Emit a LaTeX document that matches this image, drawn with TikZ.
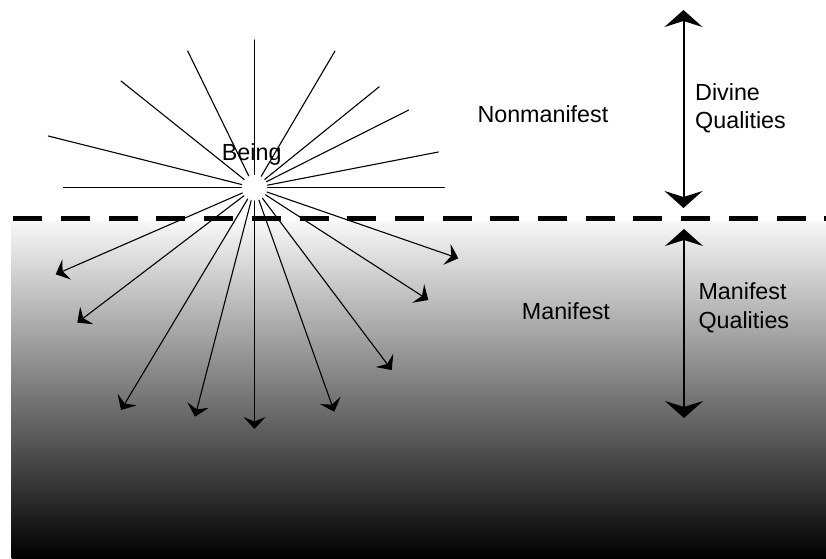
\documentclass[tikz,border=0pt]{standalone}
\usepackage{fontspec}
\setmainfont{Liberation Sans}
\usetikzlibrary{arrows.meta}
\begin{document}
\begin{tikzpicture}[x=1pt,y=-1pt,
  ray/.style={line width=1.1pt, line cap=round},
  rayarrow/.style={ray, -{Stealth[length=12pt, width=22pt, inset=4.5pt]}},
  bigarrow/.style={line width=2pt, {Stealth[length=17pt, width=38pt, inset=6pt]}-{Stealth[length=17pt, width=38pt, inset=6pt]}},
  label/.style={anchor=base west, inner sep=0pt, font=\fontsize{23.3}{28}\selectfont},
  divider/.style={line width=5pt, dash pattern=on 29pt off 18.7pt}
]
\useasboundingbox (0,0) rectangle (826,558);
% gradient (manifest region)
\shade[top color=white!97!black, middle color=black!43, bottom color=black]
  (11.7,221) rectangle (826,558);
% divider
\coordinate (dl) at (13.3,218.5);
\coordinate (dr) at (826,218.5);
\draw[divider] (dl) -- (dr);
% center of Being
\node[circle, minimum size=26pt, inner sep=0pt] (c) at (254.5,187.7) {};
% upper rays
\coordinate (u1) at (444.3,187.7);
\coordinate (u2) at (438.3,152);
\coordinate (u3) at (408.7,110);
\coordinate (u4) at (379.3,86.7);
\coordinate (u5) at (335,51);
\coordinate (u6) at (254.5,40);
\coordinate (u7) at (187.7,51);
\coordinate (u8) at (121,81);
\coordinate (u9) at (48.3,136);
\coordinate (u10) at (63.3,187.7);
\foreach \p in {u1,u2,u3,u4,u5,u6,u7,u8,u9,u10}
  \draw[ray] (c) -- (\p);
% lower arrows
\coordinate (l1) at (55.7,274.3);
\coordinate (l2) at (77.3,322.7);
\coordinate (l3) at (121,410);
\coordinate (l4) at (195,416.7);
\coordinate (l5) at (254.5,429);
\coordinate (l6) at (334.3,411.7);
\coordinate (l7) at (391.7,370);
\coordinate (l8) at (428.3,300);
\coordinate (l9) at (458.3,258.3);
\foreach \p in {l1,l2,l3,l4,l5,l6,l7,l8,l9}
  \draw[rayarrow] (c) -- (\p);
% labels
\node[label] (being) at (221.7,160.7) {Being};
\node[label] (nonman) at (477.3,122.3) {Nonmanifest};
\node[label] (man) at (521.7,319.3) {Manifest};
\node[label] (div1) at (695,100) {Divine};
\node[label] (div2) at (695,128.3) {Qualities};
\node[label] (mq1) at (698.3,299.3) {Manifest};
\node[label] (mq2) at (698.3,328.3) {Qualities};
% right double arrows
\coordinate (dt) at (683.5,10);
\coordinate (db) at (683.5,208);
\coordinate (mt) at (684,229);
\coordinate (mb) at (684,418);
\draw[bigarrow] (dt) -- (db);
\draw[bigarrow] (mt) -- (mb);
\end{tikzpicture}
\end{document}
